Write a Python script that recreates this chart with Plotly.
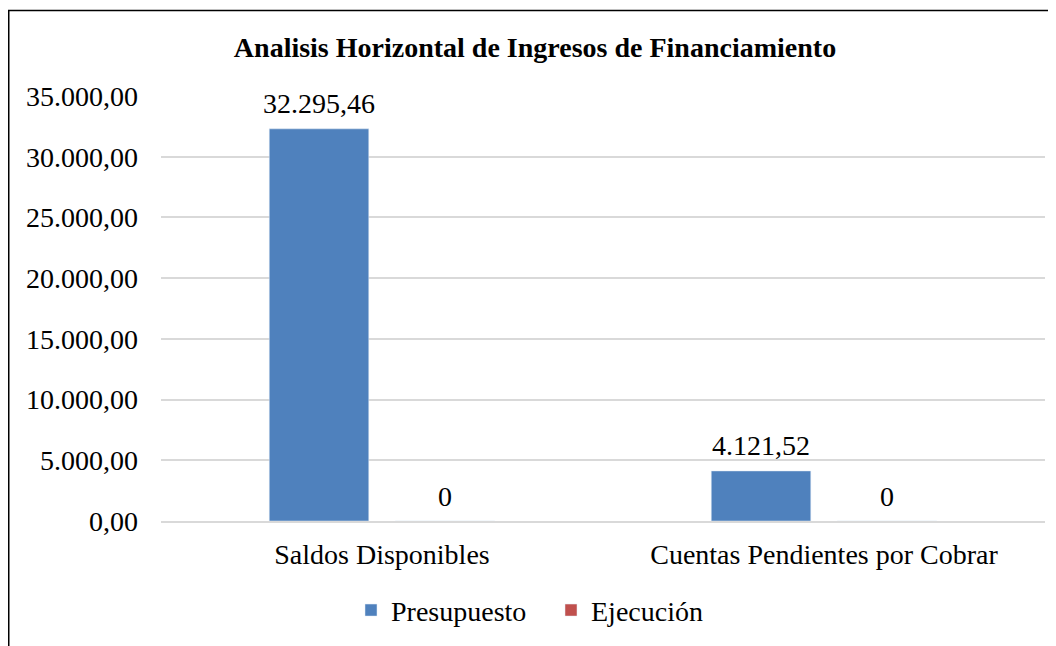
import plotly.graph_objects as go

categories = ["Saldos Disponibles", "Cuentas Pendientes por Cobrar"]
presupuesto = [32295.46, 4121.52]
ejecucion = [0, 0]
presupuesto_labels = ["32.295,46", "4.121,52"]
ejecucion_labels = ["0", "0"]
tick_vals = [0, 5000, 10000, 15000, 20000, 25000, 30000, 35000]
tick_text = ["0,00", "5.000,00", "10.000,00", "15.000,00", "20.000,00",
             "25.000,00", "30.000,00", "35.000,00"]

FONT = "Liberation Serif, Times New Roman, serif"
FS = 28

# page has an 8px body margin; figure size compensates
W, H = 1048, 638
L, R, T, B = 153, 11, 88, 122
pw = W - L - R
ph = H - T - B

BARGAP, GROUPGAP = 0.43, 0.21
slot = pw / len(categories) * (1 - BARGAP) / 2
offs = [-slot / 2, slot / 2]

fig = go.Figure()
fig.add_trace(go.Bar(name="Presupuesto", x=categories, y=presupuesto,
                     marker_color="#4F81BD"))
fig.add_trace(go.Bar(name="Ejecución", x=categories, y=ejecucion,
                     marker_color="#C0504D"))

for vals, labels, off in [(presupuesto, presupuesto_labels, offs[0]),
                          (ejecucion, ejecucion_labels, offs[1])]:
    for c, v, t in zip(categories, vals, labels):
        fig.add_annotation(x=c, y=v, xref="x", yref="y", text=t,
                           showarrow=False, xshift=off, yshift=25,
                           yanchor="middle", xanchor="center",
                           font=dict(size=FS, family=FONT, color="black"))

fig.update_layout(
    width=W, height=H,
    margin=dict(l=L, r=R, t=T, b=B),
    paper_bgcolor="white", plot_bgcolor="white",
    font=dict(family=FONT, size=FS, color="black"),
    barmode="group", bargap=BARGAP, bargroupgap=GROUPGAP,
    title=dict(text="<b>Analisis Horizontal de Ingresos de Financiamiento</b>",
               x=527 / W, xanchor="center", y=1 - 39 / H, yanchor="middle",
               font=dict(size=FS, family=FONT, color="black")),
    legend=dict(orientation="h", x=(543 - L) / pw, xanchor="center",
                y=-(606 - (H - B)) / ph, yanchor="middle",
                font=dict(size=FS, family=FONT), traceorder="normal",
                entrywidth=155, entrywidthmode="pixels"),
    showlegend=True,
)
fig.update_yaxes(range=[0, 35000], tickvals=tick_vals, ticktext=tick_text,
                 showgrid=True, gridcolor="#D9D9D9", gridwidth=1.5,
                 zeroline=False, showline=False, ticks="",
                 ticklabelstandoff=22,
                 tickfont=dict(size=FS, family=FONT))
fig.update_xaxes(showline=True, linecolor="#D9D9D9", linewidth=1.5,
                 ticks="", ticklabelstandoff=8,
                 tickfont=dict(size=FS, family=FONT))

# outer chart border (left and top visible, rest beyond the image)
fig.add_shape(type="rect", xref="paper", yref="paper",
              x0=(0.75 - L) / pw, x1=(W + 20 - L) / pw,
              y0=-(H + 20 - (H - B)) / ph, y1=1 + (T - 2) / ph,
              line=dict(color="black", width=1.5), fillcolor="rgba(0,0,0,0)",
              layer="above")

fig.write_html("out.html")
